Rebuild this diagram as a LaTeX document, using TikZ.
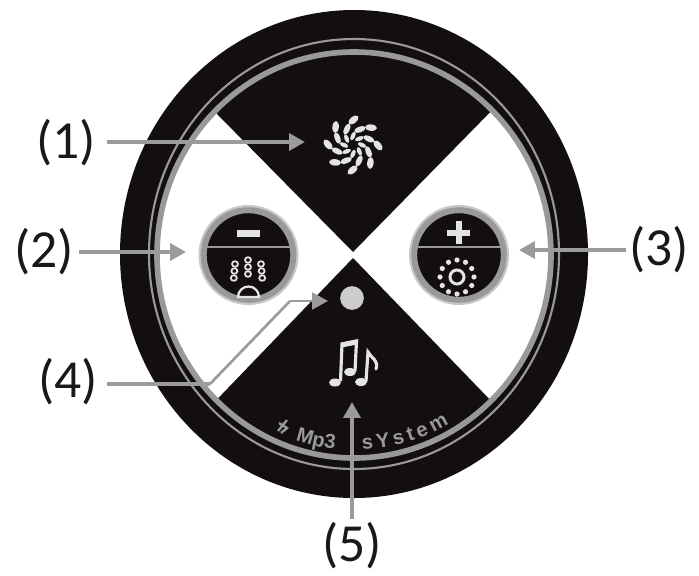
\documentclass[tikz,border=0pt]{standalone}
\usepackage{fontspec}
\setmainfont{Carlito}
\setsansfont{Liberation Sans}
\usetikzlibrary{arrows.meta,decorations.text,calc}
\definecolor{ink}{HTML}{140F0F}
\definecolor{ringgray}{HTML}{999999}
\definecolor{callout}{HTML}{9B9B9B}
\definecolor{glyph}{HTML}{E4E4E4}
\tikzset{
  x=0.02cm,y=-0.02cm,
  lab/.style={inner sep=0pt,font=\fontsize{30.5}{30.5}\selectfont,text=black!90},
  callarrow/.style={draw=callout,line width=2.3pt,-{Triangle[length=9pt,width=9.5pt]}},
  petal/.style={fill=glyph,draw=none},
  iconline/.style={draw=glyph,line width=1.3pt,line cap=round},
  btn/.style={fill=ink,draw=ringgray,line width=3.4pt},
}
\begin{document}
\begin{tikzpicture}
\useasboundingbox (0,0) rectangle (699,575);
\fill[white] (0,0) rectangle (699,575);
% body
\fill[ink] (354,254) ellipse [x radius=234,y radius=244];
\fill[white] (354,255) ellipse [x radius=197,y radius=203];
\begin{scope}
  \clip (354,255) ellipse [x radius=197,y radius=203];
  \fill[ink] (353,252) -- (150,46) -- (150,0) -- (555,0) -- (555,46) -- cycle;
  \fill[ink] (353,258) -- (153,466) -- (153,520) -- (554,520) -- (554,466) -- cycle;
\end{scope}
\draw[ringgray,line width=3.2pt] (354,255) ellipse [x radius=197,y radius=203];
\draw[ringgray,line width=1.2pt] (354,254) ellipse [x radius=205,y radius=215];
% minus button
\fill[black!22] (248.5,255) circle [radius=50];
\node[btn,circle,minimum size=51pt,inner sep=0pt] (bl) at (248.5,255) {};
\draw[ringgray,line width=1.5pt] (bl.center) ++(-44,-8) -- ++(88,0);
\fill[glyph] (237,229.5) rectangle (260,236.5);
\draw[iconline] (238,297) arc[start angle=180,end angle=0,x radius=10.5,y radius=-10.5] -- cycle;
\foreach \cx/\ty/\tl in {235/264/-0.6,248/260/0,261/264/0.6}
  \foreach \k in {0,1,2}
    \draw[iconline,line width=1pt] ({\cx+\tl*\k},{\ty+\k*7}) ellipse [x radius=3,y radius=2.8];
% plus button
\fill[black!22] (459,255) circle [radius=50];
\node[btn,circle,minimum size=51pt,inner sep=0pt] (br) at (459,255) {};
\draw[ringgray,line width=1.5pt] (br.center) ++(-44,-8) -- ++(88,0);
\fill[glyph] (447,229.5) rectangle (470,235.5);
\fill[glyph] (455.5,221) rectangle (461.5,244);
\draw[glyph,line width=1.7pt] (457,277) circle [radius=7];
\foreach \a in {0,30,...,330}
  \fill[glyph] ($(457,277)+(\a:17)$) circle [radius=2.6];
% flower: a swirl of leaves
\foreach \a in {0,45,...,315}{
  \pgfmathsetmacro{\pa}{\a}\pgfmathsetmacro{\pb}{\a+24}\pgfmathsetmacro{\pc}{\a+46}
  \pgfmathsetmacro{\ra}{-\a-25}\pgfmathsetmacro{\rb}{-\a-70}\pgfmathsetmacro{\rc}{-\a-95}
  \fill[petal,shift={(353,145)},shift={(\pa:9)},rotate=\ra] (0,0) ellipse [x radius=4.5,y radius=2.2];
  \fill[petal,shift={(353,145)},shift={(\pb:17)},rotate=\rb] (0,0) ellipse [x radius=6,y radius=2.8];
  \fill[petal,shift={(353,145)},shift={(\pc:25)},rotate=\rc] (0,0) ellipse [x radius=6,y radius=3.2];
}
% indicator
\node[circle,fill=black!20,minimum size=13.5pt,inner sep=0pt] (led) at (352,298) {};
% notes
\fill[glyph] (335,382.5) ellipse [x radius=6,y radius=4];
\fill[glyph] (350,372) ellipse [x radius=6,y radius=4];
\fill[glyph] (361,382) ellipse [x radius=6,y radius=4];
\draw[glyph,line width=1.8pt] (340.5,381) -- (342,344) -- (356.5,341) -- (355,371);
\draw[glyph,line width=2.8pt] (342,345) -- (356.5,342);
\draw[glyph,line width=1.8pt,line cap=round] (366,381) -- (368,352) .. controls (371,358) and (379,360) .. (376,369);
% printed name
\path[decorate,decoration={text along path,text align={left},
  text={|\sffamily\bfseries\fontsize{11.5}{11.5}\selectfont\color{ringgray}|Mp3}}]
  plot[domain=108:91,samples=20] ({354+190*cos(\x)},{255+195*sin(\x)});
\path[decorate,decoration={text along path,text align={fit to path},
  text={|\sffamily\bfseries\fontsize{11.5}{11.5}\selectfont\color{ringgray}|sYstem}}]
  plot[domain=87.5:60,samples=20] ({354+190*cos(\x)},{255+195*sin(\x)});
\draw[ringgray,line width=1.3pt] (278,431) -- (287,420) (279,423) -- (287,428) -- (281,433);
% callouts
\node[lab] (l1) at (66,143) {(1)};
\node[lab] (l2) at (44,252) {(2)};
\node[lab] (l3) at (659,250) {(3)};
\node[lab] (l4) at (68,382) {(4)};
\node[lab] (l5) at (352,546) {(5)};
\coordinate (t1) at (305,142);
\coordinate (t2) at (186,252);
\coordinate (t3) at (519,250);
\coordinate (t4) at (328,301);
\coordinate (t5) at (352,402);
\coordinate (b4a) at (210,384);
\coordinate (b4b) at (290,301);
\draw[callarrow] (l1.east |- t1) ++(11,0) -- (t1);
\draw[callarrow] (l2.east |- t2) ++(5,0) -- (t2);
\draw[callarrow] (l3.west |- t3) ++(-3,0) -- (t3);
\draw[callout,line width=2.3pt] (l4.east |- b4a) ++(9,0) -- (b4a);
\draw[callout,line width=1.5pt] (b4a) -- (b4b);
\draw[callout,line width=1.5pt,-{Triangle[length=9pt,width=9.5pt]}] (b4b) -- (t4);
\draw[callarrow] ($(l5.north)+(0,-3)$) -- (t5);
\end{tikzpicture}
\end{document}
